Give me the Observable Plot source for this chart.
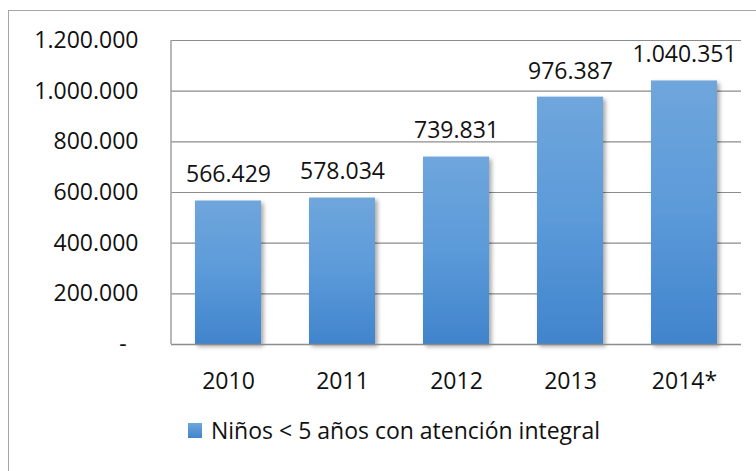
<!DOCTYPE html>
<html>
<head>
<meta charset="utf-8">
<script src="https://cdn.jsdelivr.net/npm/d3@7"></script>
<script src="https://cdn.jsdelivr.net/npm/@observablehq/plot@0.6"></script>
<style>
  html, body { margin: 0; padding: 0; background: #fff; }
  #wrap { position: relative; width: 756px; height: 471px; overflow: hidden; font-family: "Open Sans", sans-serif; }
  #frame { position: absolute; left: 8px; top: 10px; width: 760px; height: 480px; border: 1.5px solid #a6a6a6; box-sizing: border-box; }
  #chart { position: absolute; left: 0; top: 0; }
  #legend { position: absolute; left: 188px; top: 414px; height: 32px; display: flex; align-items: center; font-size: 23px; color: #111; white-space: nowrap; }
  #legend .sw { width: 14px; height: 15px; margin-right: 9px; background: linear-gradient(#6fa6dc, #4184cc); }
</style>
</head>
<body>
<div id="wrap">
  <div id="frame"></div>
  <div id="chart"></div>
  <div id="legend"><span class="sw"></span><span>Niños &lt; 5 años con atención integral</span></div>
</div>
<script>
const years = ["2010", "2011", "2012", "2013", "2014*"];
const values = [566429, 578034, 739831, 976387, 1040351];
const yTicks = [0, 200000, 400000, 600000, 800000, 1000000, 1200000];
const yTickLabels = ["-\u00a0\u00a0", "200.000", "400.000", "600.000", "800.000", "1.000.000", "1.200.000"];

const data = years.map((y, i) => ({year: y, value: values[i]}));
const fmt = d3.formatLocale({decimal: ",", thousands: ".", grouping: [3], currency: ["", ""]}).format(",d");

// left axis line drawn from the plot's own dimensions
function leftAxisLine(index, scales, values, dimensions) {
  const {marginLeft, marginTop, height, marginBottom} = dimensions;
  const [y0, y1] = scales.y ? [scales.y(0), scales.y(1200000)] : [height - marginBottom, marginTop];
  const line = d3.create("svg:line")
    .attr("x1", marginLeft).attr("x2", marginLeft)
    .attr("y1", y0).attr("y2", y1)
    .attr("stroke", "#a0a0a0").attr("stroke-width", 1.5);
  return line.node();
}

const plot = Plot.plot({
  width: 756,
  height: 400,
  marginLeft: 171,
  marginRight: 15,
  marginTop: 40,
  marginBottom: 56,
  style: {fontFamily: "Open Sans, sans-serif", fontSize: "23px", color: "#111", background: "transparent"},
  x: {domain: years, paddingInner: 0.42, paddingOuter: 0.21, label: null},
  y: {domain: [0, 1200000], label: null},
  marks: [
    Plot.ruleY(yTicks.slice(1), {stroke: "#8c8c8c", strokeWidth: 1.2}),
    Plot.barY(data, {x: "year", y: "value", fill: "url(#barGrad)"}),
    Plot.ruleY([0], {stroke: "#8c8c8c", strokeWidth: 1.5}),
    leftAxisLine,
    Plot.axisX({tickSize: 0, tickPadding: 28, fontSize: 23}),
    Plot.axisY({ticks: yTicks, tickFormat: (d) => yTickLabels[yTicks.indexOf(d)], tickSize: 0, tickPadding: 33, fontSize: 23}),
    Plot.text(data, {x: "year", y: "value", text: (d) => fmt(d.value), dy: -26, fontSize: 23, fill: "#111"})
  ]
});

// gradient & shadow definitions
const svg = d3.select(plot);
const defs = svg.insert("defs", ":first-child");
const g = defs.append("linearGradient").attr("id", "barGrad").attr("x1", 0).attr("y1", 0).attr("x2", 0).attr("y2", 1);
g.append("stop").attr("offset", "0%").attr("stop-color", "#6fa6dc");
g.append("stop").attr("offset", "50%").attr("stop-color", "#5b9ad9");
g.append("stop").attr("offset", "100%").attr("stop-color", "#4184cc");
const f = defs.append("filter").attr("id", "barShadow").attr("x", "-20%").attr("y", "-10%").attr("width", "150%").attr("height", "130%");
f.append("feDropShadow").attr("dx", 2.5).attr("dy", 2.5).attr("stdDeviation", 2.2).attr("flood-color", "#000").attr("flood-opacity", 0.35);
svg.selectAll("g[aria-label='bar'] rect").attr("filter", "url(#barShadow)");

document.getElementById("chart").appendChild(plot);
</script>
</body>
</html>
